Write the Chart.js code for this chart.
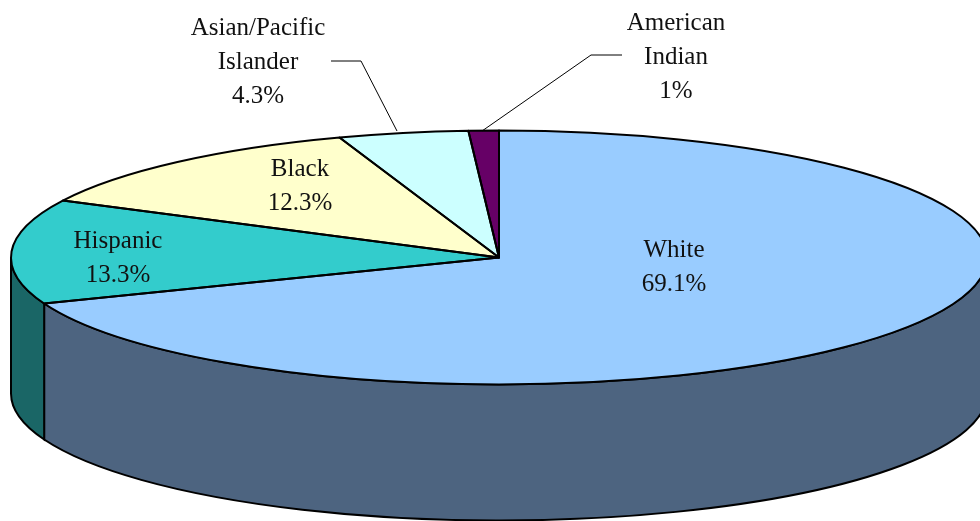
<!DOCTYPE html>
<html>
<head>
<meta charset="utf-8">
<title>Population share by race</title>
<script src="https://cdn.jsdelivr.net/npm/chart.js@4"></script>
<style>
    html, body { margin: 0; padding: 0; background: #ffffff; overflow: hidden; }
    #wrap { width: 980px; height: 521px; }
</style>
</head>
<body>
<div id="wrap"><canvas id="pie"></canvas></div>
<script>
const categories = ["White", "Hispanic", "Black", "Asian/Pacific Islander", "American Indian"];
const shares = [69.1, 13.3, 12.3, 4.3, 1];
const topColors = ["#99ccff", "#33cccc", "#ffffcc", "#ccffff", "#660066"];
const sideColors = ["#4d6480", "#1a6666", "#808066", "#668080", "#330033"];

// how each category name breaks over lines in its label
const labelLines = [["White"], ["Hispanic"], ["Black"], ["Asian/Pacific", "Islander"], ["American", "Indian"]];
// centre x and first line y of each label
const labelSpots = [[674, 250], [118, 241], [300, 169], [258, 28], [676, 23]];
// leader lines for the two labels sitting outside the pie
const leaders = [
    [[331, 61], [361, 61], [397, 131]],
    [[622, 55], [591, 55], [482, 131]]
];

const radiusX = 488;
const radiusY = 127;
const depth = 136;
const squash = radiusY / radiusX;
const lineGap = 34;

// Front wall of the pie, only the part of each slice facing the viewer
function drawSides(chart) {
    const ctx = chart.ctx;
    chart.getDatasetMeta(0).data.forEach((arc, i) => {
        const from = Math.max(arc.startAngle, 0);
        const to = Math.min(arc.endAngle, Math.PI);
        if (from >= to) return;
        ctx.beginPath();
        ctx.ellipse(arc.x, arc.y, radiusX, radiusY, 0, from, to);
        ctx.ellipse(arc.x, arc.y + depth, radiusX, radiusY, 0, to, from, true);
        ctx.closePath();
        ctx.fillStyle = sideColors[i];
        ctx.fill();
        ctx.lineWidth = 2;
        ctx.strokeStyle = "#000000";
        ctx.stroke();
    });
}

// Outlines are stroked after the squash is undone so they keep an even width
function drawOutlines(chart) {
    const ctx = chart.ctx;
    ctx.lineWidth = 2;
    ctx.strokeStyle = "#000000";
    ctx.lineJoin = "round";
    chart.getDatasetMeta(0).data.forEach(arc => {
        ctx.beginPath();
        ctx.moveTo(arc.x, arc.y);
        ctx.ellipse(arc.x, arc.y, radiusX, radiusY, 0, arc.startAngle, arc.endAngle);
        ctx.closePath();
        ctx.stroke();
    });
}

function drawLeaders(ctx) {
    ctx.lineWidth = 1;
    ctx.strokeStyle = "#000000";
    leaders.forEach(points => {
        ctx.beginPath();
        points.forEach((p, i) => i ? ctx.lineTo(p[0], p[1]) : ctx.moveTo(p[0], p[1]));
        ctx.stroke();
    });
}

function drawLabels(ctx) {
    ctx.font = '25px "Liberation Serif"';
    ctx.fillStyle = "#111111";
    ctx.textAlign = "center";
    ctx.textBaseline = "middle";
    categories.forEach((name, i) => {
        const lines = labelLines[i].concat(shares[i] + "%");
        lines.forEach((line, j) => {
            ctx.fillText(line, labelSpots[i][0], labelSpots[i][1] + j * lineGap);
        });
    });
}

const tiltedPie = {
    id: "tiltedPie",
    beforeDatasetsDraw(chart) {
        const ctx = chart.ctx;
        const arc = chart.getDatasetMeta(0).data[0];
        drawSides(chart);
        ctx.save();
        ctx.translate(arc.x, arc.y);
        ctx.scale(1, squash);
        ctx.translate(-arc.x, -arc.y);
    },
    afterDatasetsDraw(chart) {
        const ctx = chart.ctx;
        ctx.restore();
        drawOutlines(chart);
        drawLeaders(ctx);
        drawLabels(ctx);
    }
};

new Chart(document.getElementById("pie"), {
    type: "pie",
    data: {
        labels: categories,
        datasets: [{
            data: shares,
            backgroundColor: topColors,
            borderWidth: 0,
            radius: radiusX,
            clip: false
        }]
    },
    options: {
        responsive: true,
        maintainAspectRatio: false,
        animation: false,
        events: [],
        layout: { padding: { left: 18, bottom: 6 } },
        plugins: {
            legend: { display: false },
            tooltip: { enabled: false }
        }
    },
    plugins: [tiltedPie]
});
</script>
</body>
</html>
